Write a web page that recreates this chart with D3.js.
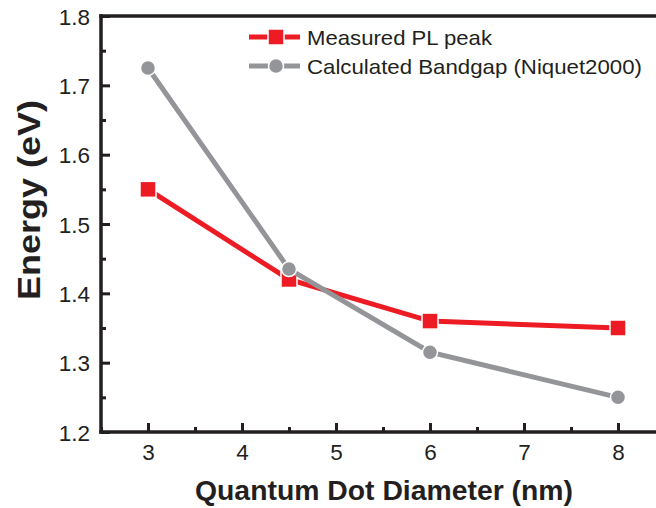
<!DOCTYPE html>
<html>
<head>
<meta charset="utf-8">
<script src="https://cdn.jsdelivr.net/npm/d3@7"></script>
<style>
  html, body { margin: 0; padding: 0; background: #fff; }
  svg { display: block; font-family: "Liberation Sans", Arial, Helvetica, sans-serif; }
</style>
</head>
<body>
<svg id="chart" width="656" height="508"></svg>
<script>
// Quantum dot diameters (nm)
const diameters = [3, 4.5, 6, 8];
// Measured photoluminescence peak energies (eV)
const measuredPL = [1.55, 1.42, 1.36, 1.35];
// Calculated bandgap energies (eV), Niquet 2000
const calculatedGap = [1.725, 1.435, 1.315, 1.25];

const xTicks = [3, 4, 5, 6, 7, 8];
const xMinor = [2.5, 3.5, 4.5, 5.5, 6.5, 7.5];
const yTicks = [1.2, 1.3, 1.4, 1.5, 1.6, 1.7, 1.8];
const yMinor = [1.25, 1.35, 1.45, 1.55, 1.65, 1.75];

const seriesNames = ["Measured PL peak", "Calculated Bandgap (Niquet2000)"];
const red = "#ED1C24", gray = "#939598", ink = "#231F20";

const svg = d3.select("#chart");
const m = { left: 101, top: 16, right: 665, bottom: 432 };

const x = d3.scaleLinear().domain([2.5, 8.5]).range([m.left, m.right]);
const y = d3.scaleLinear().domain([1.2, 1.8]).range([m.bottom, m.top]);

// Axes with inward ticks
const axisW = 3.5;
const gx = svg.append("g").attr("transform", `translate(0,${m.bottom})`);
gx.call(d3.axisBottom(x).tickValues(xTicks).tickSize(-9).tickPadding(12).tickFormat(d3.format("d")));
const gxm = svg.append("g").attr("transform", `translate(0,${m.bottom})`);
gxm.call(d3.axisBottom(x).tickValues(xMinor).tickSize(-5).tickFormat(""));

const gy = svg.append("g").attr("transform", `translate(${m.left},0)`);
gy.call(d3.axisLeft(y).tickValues(yTicks).tickSize(-9).tickPadding(11).tickFormat(d3.format(".1f")));
const gym = svg.append("g").attr("transform", `translate(${m.left},0)`);
gym.call(d3.axisLeft(y).tickValues(yMinor).tickSize(-5).tickFormat(""));

svg.selectAll(".domain").remove();
svg.selectAll(".tick line").attr("stroke", ink).attr("stroke-width", 3);
svg.selectAll(".tick text").attr("fill", ink).style("font-size", "22.5px")
  .style("font-family", "'Liberation Sans', Arial, sans-serif");
gy.selectAll(".tick text").attr("dy", "0.36em");

// Frame lines: left, bottom, top
svg.append("line").attr("x1", m.left).attr("x2", m.left).attr("y1", m.top - axisW / 2).attr("y2", m.bottom + axisW / 2)
  .attr("stroke", ink).attr("stroke-width", axisW);
svg.append("line").attr("x1", m.left - axisW / 2).attr("x2", m.right).attr("y1", m.bottom).attr("y2", m.bottom)
  .attr("stroke", ink).attr("stroke-width", axisW);
svg.append("line").attr("x1", m.left - axisW / 2).attr("x2", m.right).attr("y1", m.top).attr("y2", m.top)
  .attr("stroke", ink).attr("stroke-width", axisW);

// Series
const line = d3.line().x(d => x(d[0])).y(d => y(d[1]));
const redPts = diameters.map((d, i) => [d, measuredPL[i]]);
const grayPts = diameters.map((d, i) => [d, calculatedGap[i]]);

function drawSquares(pts, color) {
  svg.append("g").selectAll("rect").data(pts).join("rect")
    .attr("x", d => x(d[0]) - 8).attr("y", d => y(d[1]) - 8)
    .attr("width", 16).attr("height", 16)
    .attr("fill", color).attr("stroke", "#fff").attr("stroke-width", 1.5);
}
function drawCircles(pts, color) {
  svg.append("g").selectAll("circle").data(pts).join("circle")
    .attr("cx", d => x(d[0])).attr("cy", d => y(d[1])).attr("r", 7.5)
    .attr("fill", color).attr("stroke", "#fff").attr("stroke-width", 1.5);
}

svg.append("path").datum(redPts).attr("d", line).attr("fill", "none")
  .attr("stroke", red).attr("stroke-width", 5);
drawSquares(redPts, red);
svg.append("path").datum(grayPts).attr("d", line).attr("fill", "none")
  .attr("stroke", gray).attr("stroke-width", 5);
drawCircles(grayPts, gray);

// Legend
const legend = svg.append("g");
const lx0 = 249, lx1 = 300, lxm = 276;
const legendWidths = [185, 335];
[[red, 37, "sq"], [gray, 66, "ci"]].forEach(([c, ly, kind], i) => {
  legend.append("line").attr("x1", lx0).attr("x2", lx1).attr("y1", ly).attr("y2", ly)
    .attr("stroke", c).attr("stroke-width", 5);
  if (kind === "sq") {
    legend.append("rect").attr("x", lxm - 8).attr("y", ly - 8).attr("width", 16).attr("height", 16)
      .attr("fill", c).attr("stroke", "#fff").attr("stroke-width", 1.5);
  } else {
    legend.append("circle").attr("cx", lxm).attr("cy", ly).attr("r", 7.5)
      .attr("fill", c).attr("stroke", "#fff").attr("stroke-width", 1.5);
  }
  legend.append("text").attr("x", 307).attr("y", ly).attr("dy", "0.36em")
    .attr("fill", ink).style("font-size", "21px")
    .attr("textLength", legendWidths[i]).attr("lengthAdjust", "spacingAndGlyphs")
    .text(seriesNames[i]);
});

// Axis titles
svg.append("text").attr("x", 384).attr("y", 500).attr("text-anchor", "middle")
  .attr("fill", ink).style("font-size", "27px").style("font-weight", "bold")
  .attr("textLength", 378).attr("lengthAdjust", "spacingAndGlyphs")
  .text("Quantum Dot Diameter (nm)");
svg.append("text").attr("transform", "translate(40,200) rotate(-90)").attr("text-anchor", "middle")
  .attr("fill", ink).style("font-size", "31px").style("font-weight", "bold")
  .attr("textLength", 200).attr("lengthAdjust", "spacingAndGlyphs")
  .text("Energy (eV)");
</script>
</body>
</html>
